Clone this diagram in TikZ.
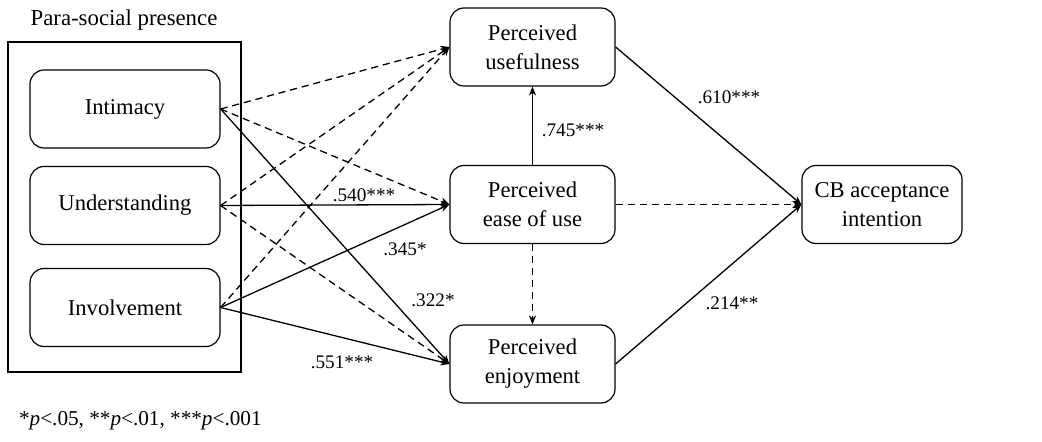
\documentclass[tikz,border=0pt]{standalone}
\usepackage{fontspec}
\setmainfont{Liberation Serif}
\usetikzlibrary{arrows.meta}

\tikzset{
  box/.style={draw, rounded corners=7pt, line width=0.6pt, minimum height=39pt, align=center, font=\fontsize{11.3}{14.5}\selectfont},
  path/.style={line width=0.65pt, -{Stealth[length=4.5pt,width=3.6pt]}},
  ns/.style={path, dash pattern=on 3.6pt off 2.4pt},
  coef/.style={font=\fontsize{9.6}{11}\selectfont, inner sep=1pt}
}

\begin{document}
\begin{tikzpicture}[x=0.5pt, y=-0.5pt]
    \useasboundingbox (0,0) rectangle (1042,442);
    \node[draw, line width=0.55pt, minimum width=116.5pt, minimum height=165pt] (psp) at (124.5, 207) {};
    \node[font=\fontsize{11.4}{13}\selectfont] (t) at (124, 20) {Para-social presence};
    \node[box, minimum width=95pt] (a) at (125, 109) {Intimacy};
    \node[box, minimum width=95pt] (b) at (125, 205.5) {Understanding};
    \node[box, minimum width=95pt] (c) at (125, 307.5) {Involvement};
    \node[box, minimum width=82.5pt] (d) at (532.5, 47) {Perceived\\usefulness};
    \node[box, minimum width=82.5pt] (e) at (532.5, 204.5) {Perceived\\ease of use};
    \node[box, minimum width=82.5pt] (f) at (532.5, 364) {Perceived\\enjoyment};
    \node[box, minimum width=80pt] (g) at (882, 204.5) {CB acceptance\\intention};
    \draw [ns] (a.east) to (d.west);
    \draw [ns] (b.east) to (d.west);
    \draw [ns] (c.east) to (d.west);
    \draw [ns] (a.east) to (e.west);
    \draw [path] (b.east) to (e.west);
    \draw [path] (c.east) to (e.west);
    \draw [path] (a.east) to (f.west);
    \draw [ns] (b.east) to (f.west);
    \draw [path] (c.east) to (f.west);
    \draw [path] (e.north) to (d.south);
    \draw [ns] (e.south) to (f.north);
    \draw [path] (d.east) to (g.west);
    \draw [ns] (e.east) to (g.west);
    \draw [path] (f.east) to (g.west);
    \node[coef] (k1) at (364, 195) {.540***};
    \node[coef] (k2) at (405, 249) {.345*};
    \node[coef] (k3) at (433, 300) {.322*};
    \node[coef] (k4) at (342, 362) {.551***};
    \node[coef] (k5) at (573, 130) {.745***};
    \node[coef] (k6) at (729, 97) {.610***};
    \node[coef] (k7) at (732, 303) {.214**};
    \node[anchor=west, font=\fontsize{10.6}{12}\selectfont] (n) at (12, 421) {*\textit{p}<.05, **\textit{p}<.01, ***\textit{p}<.001};
\end{tikzpicture}
\end{document}
